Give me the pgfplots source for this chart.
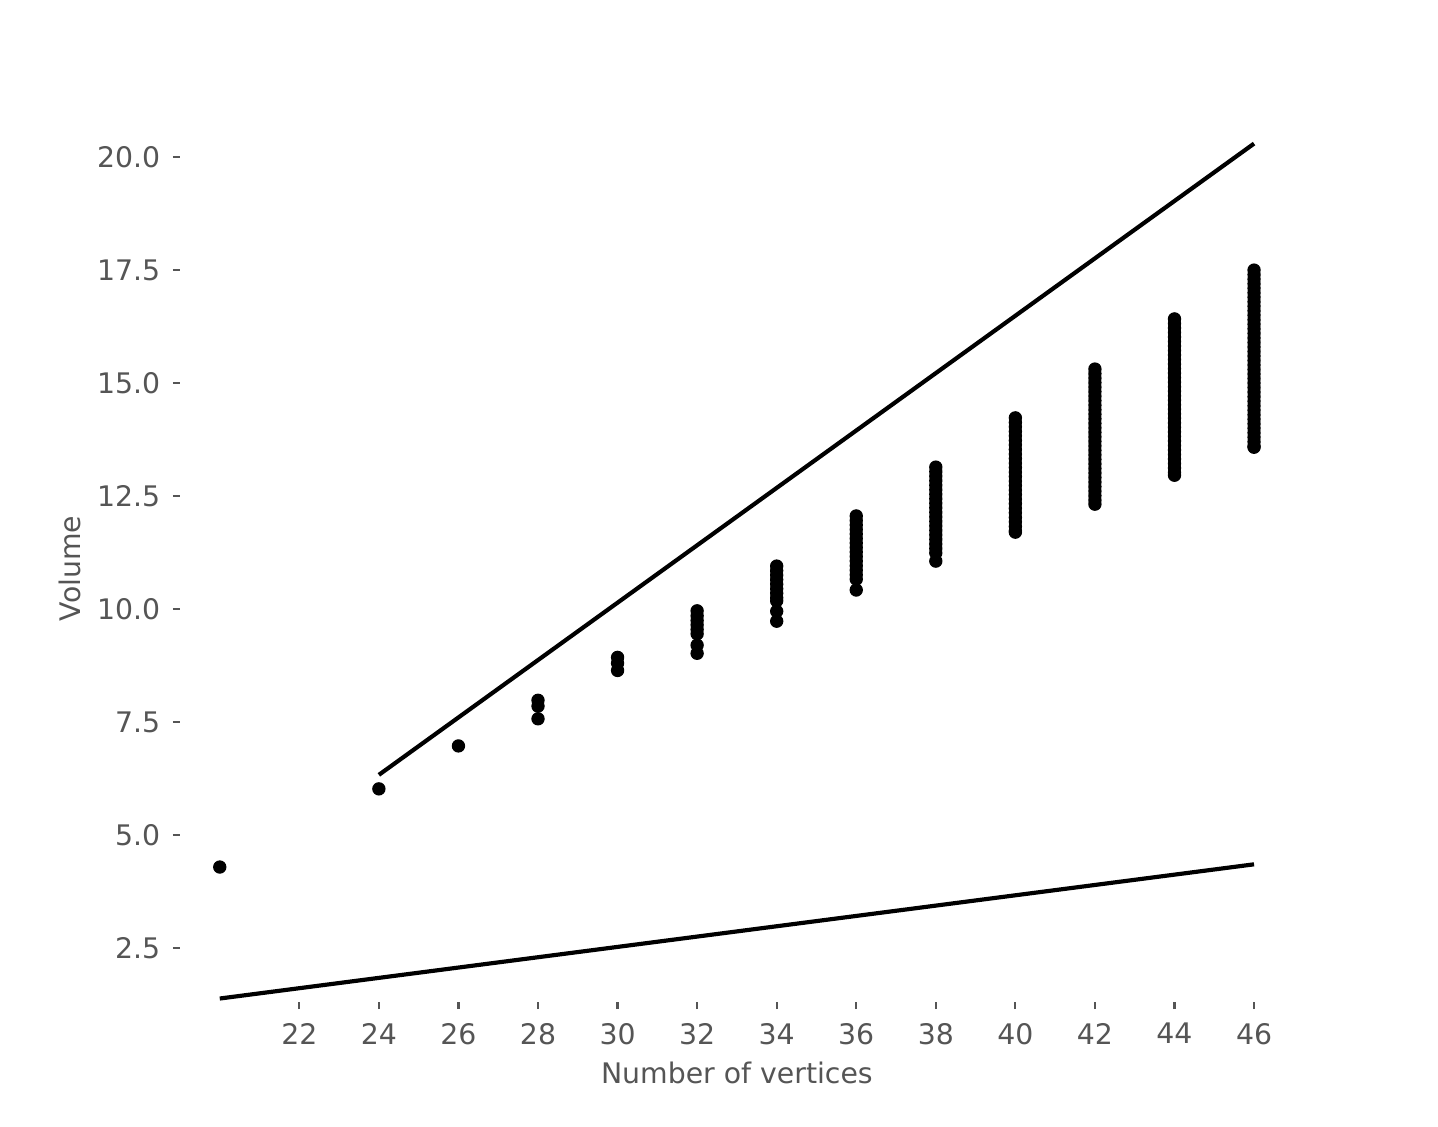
\documentclass[border=0pt]{standalone}
\usepackage{fontspec}
\setmainfont{DejaVu Sans}
\usepackage{pgfplots}
\pgfplotsset{compat=1.18}
\usepackage{pgfplotstable}
\definecolor{tickgray}{HTML}{555555}

% volume of each configuration, by number of vertices
\pgfplotstableread{
x y
20 4.29
24 6.02
26 6.97
28 7.98
28 7.85
28 7.57
30 8.93
30 8.80
30 8.64
32 9.96
32 9.85
32 9.75
32 9.65
32 9.55
32 9.45
32 9.20
32 9.02
34 10.95
34 10.85
34 10.75
34 10.65
34 10.55
34 10.45
34 10.35
34 10.25
34 10.18
34 9.95
34 9.73
36 12.06
36 11.96
36 11.86
36 11.76
36 11.66
36 11.56
36 11.46
36 11.36
36 11.26
36 11.16
36 11.06
36 10.96
36 10.86
36 10.76
36 10.66
36 10.42
38 13.14
38 13.04
38 12.94
38 12.84
38 12.74
38 12.64
38 12.54
38 12.44
38 12.34
38 12.24
38 12.14
38 12.04
38 11.94
38 11.84
38 11.74
38 11.64
38 11.54
38 11.44
38 11.34
38 11.24
38 11.06
40 14.23
40 14.13
40 14.03
40 13.93
40 13.83
40 13.73
40 13.63
40 13.53
40 13.43
40 13.33
40 13.23
40 13.13
40 13.03
40 12.93
40 12.83
40 12.73
40 12.63
40 12.53
40 12.43
40 12.33
40 12.23
40 12.13
40 12.03
40 11.93
40 11.83
40 11.73
40 11.70
42 15.31
42 15.21
42 15.11
42 15.01
42 14.91
42 14.81
42 14.71
42 14.61
42 14.51
42 14.41
42 14.31
42 14.21
42 14.11
42 14.01
42 13.91
42 13.81
42 13.71
42 13.61
42 13.51
42 13.41
42 13.31
42 13.21
42 13.11
42 13.01
42 12.91
42 12.81
42 12.71
42 12.61
42 12.51
42 12.41
42 12.32
44 16.42
44 16.32
44 16.22
44 16.12
44 16.02
44 15.92
44 15.82
44 15.72
44 15.62
44 15.52
44 15.42
44 15.32
44 15.22
44 15.12
44 15.02
44 14.92
44 14.82
44 14.72
44 14.62
44 14.52
44 14.42
44 14.32
44 14.22
44 14.12
44 14.02
44 13.92
44 13.82
44 13.72
44 13.62
44 13.52
44 13.42
44 13.32
44 13.22
44 13.12
44 13.02
44 12.96
46 17.50
46 17.40
46 17.30
46 17.20
46 17.10
46 17.00
46 16.90
46 16.80
46 16.70
46 16.60
46 16.50
46 16.40
46 16.30
46 16.20
46 16.10
46 16.00
46 15.90
46 15.80
46 15.70
46 15.60
46 15.50
46 15.40
46 15.30
46 15.20
46 15.10
46 15.00
46 14.90
46 14.80
46 14.70
46 14.60
46 14.50
46 14.40
46 14.30
46 14.20
46 14.10
46 14.00
46 13.90
46 13.80
46 13.70
46 13.60
46 13.58
}\volumes

\begin{document}
\begin{tikzpicture}
% whole figure area, same as the reference canvas
\path[use as bounding box] (-64.8pt,-44.7pt) rectangle (452.9pt,360.7pt);
\begin{axis}[
  at={(0,0)},anchor=south west,
  scale only axis,
  width=401pt,height=312.1pt,
  xmin=19,xmax=47,ymin=1.305,ymax=20.49,
  axis line style={draw=none},
  tick align=outside,tick pos=left,
  major tick length=2.6pt,
  tick style={color=tickgray,line width=0.8pt},
  xtick={22,24,...,46},
  ytick={2.5,5,7.5,10,12.5,15,17.5,20},
  /pgf/number format/assume math mode=true,
  yticklabel style={/pgf/number format/.cd,fixed,fixed zerofill,precision=1},
  ticklabel style={font=\fontsize{10.2}{12}\selectfont,color=tickgray},
  xticklabel shift=1.5pt,
  yticklabel shift=1pt,
  xlabel={Number of vertices},
  ylabel={Volume},
  every axis x label/.style={at={(axis description cs:0.5,-0.082)},anchor=center,
    font=\fontsize{10.2}{12}\selectfont,text=tickgray},
  every axis y label/.style={at={(axis description cs:-0.099,0.5)},rotate=90,anchor=center,
    font=\fontsize{10.2}{12}\selectfont,text=tickgray},
  clip=false,
]
\addplot[only marks,mark=*,mark size=2.2pt,black] table[x=x,y=y] {\volumes};
\addplot[black,line width=1.5pt] coordinates {(24,6.33) (46,20.30)};
\addplot[black,line width=1.5pt] coordinates {(20,1.38) (46,4.35)};
\end{axis}
\end{tikzpicture}
\end{document}
